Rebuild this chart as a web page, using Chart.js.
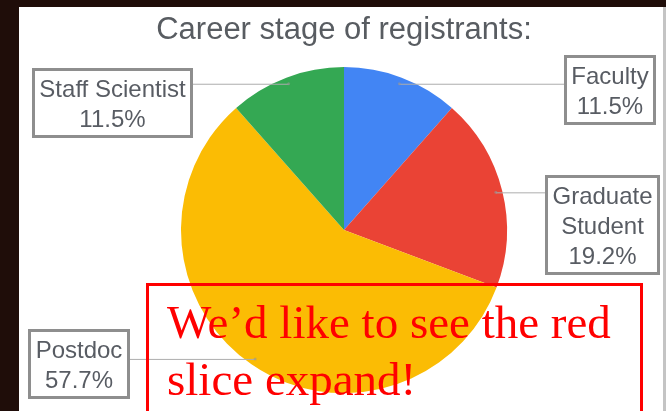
<!DOCTYPE html>
<html>
<head>
<meta charset="utf-8">
<script src="https://cdn.jsdelivr.net/npm/chart.js@4"></script>
<style>
    html, body { margin: 0; padding: 0; }
    body { width: 666px; height: 411px; overflow: hidden; background: #1f0d09; position: relative; }
    #panel { position: absolute; left: 19px; top: 7px; width: 644px; height: 404px; background: #ffffff; border-right: 3px solid #c4c4c4; }
    #chart-wrap { position: absolute; left: 22px; top: 0; width: 644px; height: 411px; }
    #note {
        position: absolute; left: 146px; top: 283px; width: 497px; height: 160px;
        border: 3px solid #ff0000; padding: 8px 0 0 18px; box-sizing: border-box;
        font-family: 'Liberation Serif', 'Times New Roman', serif; font-size: 47px; line-height: 57px;
        color: #ff0000; white-space: nowrap;
    }
</style>
</head>
<body>
<div id="panel"></div>
<div id="chart-wrap"><canvas id="stageChart"></canvas></div>
<div id="note">We’d like to see the red<br>slice expand!</div>

<script>
// ===== DATA =====
const categories = ['Faculty', 'Graduate Student', 'Postdoc', 'Staff Scientist'];
const labelLines = [['Faculty'], ['Graduate', 'Student'], ['Postdoc'], ['Staff Scientist']];
const shares = [11.5, 19.2, 57.7, 11.5];
const sliceColors = ['#4285f4', '#ea4335', '#fbbc04', '#34a853'];

// ===== LABEL BOX LAYOUT (canvas px) =====
const labelLayout = [
    { side: 'right', edge: 634, top: 55 },
    { side: 'right', edge: 638, top: 175 },
    { side: 'left', edge: 6, top: 329 },
    { side: 'left', edge: 10, top: 68 }
];

// ===== LEADER LABELS PLUGIN =====
const leaderLabels = {
    id: 'leaderLabels',
    afterDatasetsDraw(chart) {
        const ctx = chart.ctx;
        const arcs = chart.getDatasetMeta(0).data;
        ctx.save();
        ctx.font = '24px "Liberation Sans", Arial, sans-serif';
        ctx.textAlign = 'center';
        ctx.textBaseline = 'alphabetic';

        arcs.forEach((arc, i) => {
            const mid = (arc.startAngle + arc.endAngle) / 2;
            const r = arc.outerRadius * 0.96;
            const px = arc.x + Math.cos(mid) * r;
            const py = arc.y + Math.sin(mid) * r;

            const lines = labelLines[i].concat([shares[i].toFixed(1) + '%']);
            const textW = Math.max(...lines.map(t => ctx.measureText(t).width));
            const boxW = Math.round(textW + 15);
            const boxH = lines.length * 30 + 10;
            const lay = labelLayout[i];
            const boxX = lay.side === 'left' ? lay.edge : lay.edge - boxW;
            const lineEnd = lay.side === 'left' ? boxX + boxW : boxX;

            // leader line
            ctx.strokeStyle = '#adadad';
            ctx.lineWidth = 1;
            ctx.beginPath();
            ctx.moveTo(px, py + 0.5);
            ctx.lineTo(lineEnd, py + 0.5);
            ctx.stroke();

            ctx.fillStyle = 'rgba(150,150,150,0.6)';
            ctx.beginPath();
            ctx.arc(px, py, 1.5, 0, Math.PI * 2);
            ctx.fill();

            // box
            ctx.fillStyle = '#ffffff';
            ctx.fillRect(boxX, lay.top, boxW, boxH);
            ctx.strokeStyle = '#8e8e8e';
            ctx.lineWidth = 3;
            ctx.strokeRect(boxX + 1.5, lay.top + 1.5, boxW - 3, boxH - 3);

            ctx.fillStyle = '#585c63';
            lines.forEach((t, k) => {
                ctx.fillText(t, boxX + boxW / 2, lay.top + 29 + k * 30);
            });
        });
        ctx.restore();
    }
};

// ===== CHART =====
new Chart(document.getElementById('stageChart').getContext('2d'), {
    type: 'pie',
    data: {
        labels: categories,
        datasets: [{
            data: shares,
            backgroundColor: sliceColors,
            borderWidth: 0
        }]
    },
    options: {
        responsive: true,
        maintainAspectRatio: false,
        animation: false,
        radius: 163,
        layout: { padding: { bottom: 10 } },
        plugins: {
            legend: { display: false },
            tooltip: { enabled: false },
            title: {
                display: true,
                text: 'Career stage of registrants:',
                color: '#585c61',
                font: { family: '"Liberation Sans", Arial, sans-serif', size: 31, weight: 'normal' },
                padding: { top: 12, bottom: 10 }
            }
        }
    },
    plugins: [leaderLabels]
});
</script>
</body>
</html>
